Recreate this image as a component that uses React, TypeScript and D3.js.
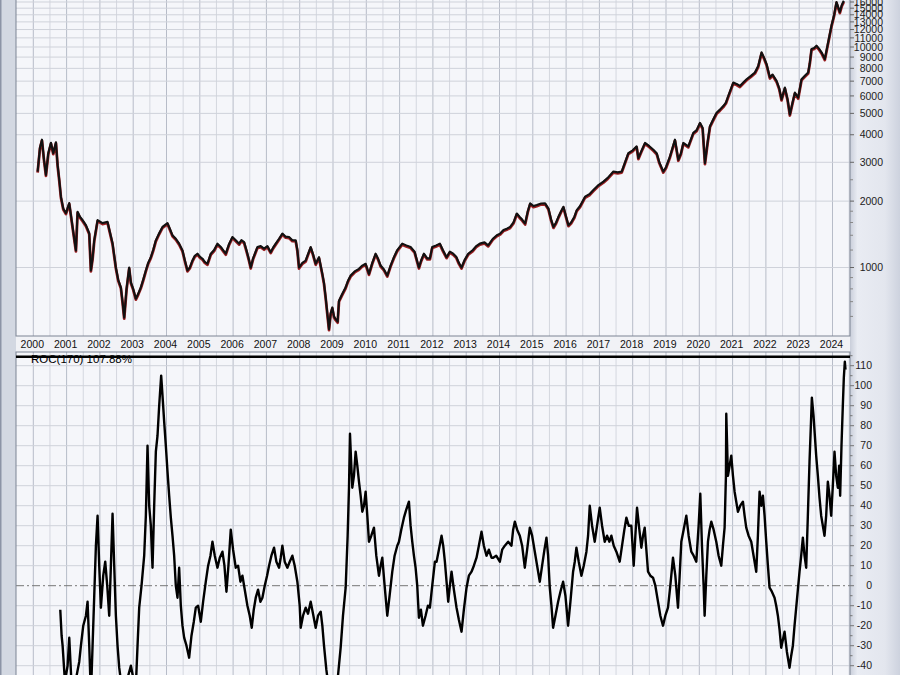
import React from "react";
import * as d3 from "d3";

// ---- Data ----
const priceDates: number[] = [
  2000.13, 2000.2, 2000.26, 2000.32, 2000.38, 2000.45, 2000.53, 2000.6, 2000.68, 2000.73, 2000.78, 2000.83, 2000.9, 2000.98,
  2001.08, 2001.18, 2001.28, 2001.33, 2001.4, 2001.48, 2001.58, 2001.68, 2001.73, 2001.78, 2001.83, 2001.93,
  2002.08, 2002.23, 2002.3, 2002.38, 2002.48, 2002.55, 2002.63, 2002.68, 2002.73, 2002.8, 2002.88, 2002.93,
  2003.0, 2003.08, 2003.15, 2003.23, 2003.3, 2003.38, 2003.45, 2003.53, 2003.6, 2003.68, 2003.78, 2003.88,
  2004.03, 2004.1, 2004.18, 2004.28, 2004.38, 2004.48, 2004.55, 2004.63, 2004.7, 2004.78, 2004.85, 2004.93,
  2005.0, 2005.08, 2005.15, 2005.23, 2005.33, 2005.43, 2005.53, 2005.63, 2005.7, 2005.78, 2005.88, 2005.98,
  2006.08, 2006.18, 2006.25, 2006.33, 2006.4, 2006.48, 2006.53, 2006.6, 2006.73, 2006.83, 2006.93,
  2007.03, 2007.13, 2007.2, 2007.28, 2007.38, 2007.48, 2007.58, 2007.68, 2007.78, 2007.88, 2007.93, 2007.98,
  2008.08, 2008.18, 2008.25, 2008.33, 2008.4, 2008.48, 2008.58, 2008.68, 2008.73, 2008.78, 2008.83, 2008.88, 2008.93, 2008.98,
  2009.03, 2009.08, 2009.14, 2009.18, 2009.28, 2009.38, 2009.45, 2009.53, 2009.65, 2009.78, 2009.88, 2009.98,
  2010.08, 2010.18, 2010.28, 2010.35, 2010.43, 2010.53, 2010.63, 2010.73, 2010.83, 2010.93,
  2011.08, 2011.2, 2011.33, 2011.45, 2011.58, 2011.65, 2011.73, 2011.83, 2011.91, 2011.98,
  2012.1, 2012.21, 2012.3, 2012.41, 2012.51, 2012.61, 2012.7, 2012.78, 2012.86, 2012.95,
  2013.06, 2013.2, 2013.3, 2013.41, 2013.55, 2013.66, 2013.8, 2013.92,
  2014.02, 2014.12, 2014.22, 2014.32, 2014.42, 2014.52, 2014.6, 2014.68, 2014.77, 2014.85, 2014.92,
  2015.02, 2015.12, 2015.25, 2015.37, 2015.47, 2015.55, 2015.62, 2015.7, 2015.77, 2015.85, 2015.92,
  2016.0, 2016.07, 2016.15, 2016.25, 2016.32, 2016.42, 2016.5, 2016.57, 2016.7, 2016.82, 2016.95,
  2017.12, 2017.25, 2017.42, 2017.55, 2017.67, 2017.77, 2017.87,
  2018.0, 2018.12, 2018.17, 2018.27, 2018.37, 2018.5, 2018.62, 2018.72, 2018.8, 2018.92,
  2019.0, 2019.12, 2019.27, 2019.37, 2019.45, 2019.52, 2019.67, 2019.82, 2019.92,
  2020.02, 2020.1, 2020.17, 2020.25, 2020.32, 2020.42, 2020.52, 2020.62, 2020.72, 2020.8, 2020.87,
  2021.02, 2021.12, 2021.22, 2021.32, 2021.42, 2021.55, 2021.67, 2021.77, 2021.87, 2021.95,
  2022.02, 2022.12, 2022.2, 2022.32, 2022.4, 2022.47, 2022.57, 2022.65, 2022.72, 2022.8, 2022.87, 2022.97,
  2023.07, 2023.17, 2023.27, 2023.32, 2023.37, 2023.45, 2023.52, 2023.6, 2023.67, 2023.77, 2023.87, 2023.97,
  2024.05, 2024.12, 2024.18, 2024.22, 2024.28, 2024.34,
];
const priceValues: number[] = [
  2720, 3500, 3800, 3100, 2630, 3300, 3680, 3300, 3700, 2920, 2500, 2095, 1850, 1765,
  1960, 1528, 1196, 1789, 1700, 1640, 1556, 1430, 970, 1100, 1328, 1640,
  1590, 1610, 1450, 1287, 1000, 880, 813, 700, 593, 800, 1000, 857,
  800, 722, 760, 813, 880, 970, 1050, 1114, 1200, 1328, 1430, 1528,
  1590, 1500, 1400, 1350, 1283, 1196, 1080, 970, 1000, 1076, 1130, 1155,
  1120, 1096, 1060, 1040, 1155, 1200, 1283, 1240, 1200, 1155, 1280, 1375,
  1330, 1283, 1330, 1305, 1200, 1080, 1000, 1100, 1238, 1250, 1217,
  1250, 1174, 1230, 1283, 1350, 1425, 1380, 1375, 1330, 1328, 1200, 1000,
  1050, 1076, 1150, 1238, 1150, 1040, 1114, 936, 850, 732, 620, 525, 620, 659,
  600, 583, 568, 707, 760, 813, 870, 919, 960, 986, 1020, 1040,
  936, 1050, 1155, 1100, 1021, 980, 919, 1020, 1114, 1200,
  1283, 1260, 1238, 1180, 1000, 1080, 1155, 1100, 1100, 1238,
  1260, 1283, 1200, 1114, 1180, 1155, 1120, 1050, 1000, 1080,
  1155, 1200, 1250, 1283, 1300, 1260, 1350, 1400,
  1425, 1480, 1500, 1528, 1600, 1758, 1700, 1650, 1583, 1800, 1954,
  1900, 1919, 1950, 1954, 1850, 1650, 1528, 1600, 1698, 1800, 1886,
  1700, 1556, 1600, 1700, 1820, 1900, 2000, 2095, 2150, 2247, 2350,
  2452, 2550, 2723, 2700, 2723, 3000, 3305,
  3400, 3543, 3135, 3400, 3672, 3550, 3422, 3300, 3000, 2723,
  2850, 3190, 3800, 3081, 3300, 3672, 3543, 4079, 4200,
  4530, 4300, 2975, 3700, 4374, 4700, 5033, 5200, 5397, 5600, 5995,
  6900, 6800, 6658, 6900, 7142, 7400, 7660, 8200, 9458, 8900,
  8363, 7273, 7500, 7020, 6500, 5788, 6546, 5800, 4943, 5600, 6210, 5892,
  7142, 7400, 7660, 8500, 9792, 9900, 10140, 9800, 9458, 8815, 10500, 12510,
  14000, 16000, 15000, 14400, 15500, 16200,
];

const rocDates: number[] = [
  2000.81, 2000.85, 2000.88, 2000.95, 2001.03, 2001.08, 2001.15, 2001.22, 2001.3, 2001.38, 2001.43, 2001.5, 2001.58, 2001.63,
  2001.68, 2001.73, 2001.78, 2001.83, 2001.88, 2001.93, 2001.98, 2002.03, 2002.1, 2002.16, 2002.22, 2002.28, 2002.33, 2002.38,
  2002.43, 2002.48, 2002.53, 2002.58, 2002.65, 2002.72, 2002.78, 2002.85, 2002.93, 2003.0, 2003.08, 2003.13, 2003.18, 2003.25,
  2003.33, 2003.38, 2003.43, 2003.48, 2003.53, 2003.58, 2003.63, 2003.68, 2003.73, 2003.78, 2003.84, 2003.88, 2003.93, 2003.98,
  2004.03, 2004.08, 2004.13, 2004.18, 2004.23, 2004.28, 2004.33, 2004.38, 2004.43, 2004.48, 2004.53, 2004.6, 2004.68, 2004.75,
  2004.82, 2004.88, 2004.95, 2005.03, 2005.1, 2005.18, 2005.25, 2005.32, 2005.38, 2005.45, 2005.53, 2005.6, 2005.68, 2005.74,
  2005.8, 2005.86, 2005.93, 2006.0, 2006.08, 2006.15, 2006.22, 2006.28, 2006.35, 2006.43, 2006.5, 2006.56, 2006.62, 2006.68,
  2006.75, 2006.82, 2006.88, 2006.95, 2007.02, 2007.08, 2007.15, 2007.23, 2007.3, 2007.38, 2007.43, 2007.48, 2007.55, 2007.63,
  2007.7, 2007.78, 2007.85, 2007.93, 2008.0, 2008.03, 2008.1, 2008.18, 2008.25, 2008.33, 2008.4, 2008.48, 2008.55, 2008.63,
  2008.68, 2008.73, 2008.8, 2008.88, 2008.95, 2009.02, 2009.08, 2009.15, 2009.23, 2009.3, 2009.38, 2009.44, 2009.48, 2009.51,
  2009.55, 2009.58, 2009.63, 2009.68, 2009.73, 2009.78, 2009.83, 2009.88, 2009.93, 2009.98, 2010.03, 2010.08, 2010.15, 2010.23,
  2010.3, 2010.38, 2010.43, 2010.48, 2010.55, 2010.63, 2010.7, 2010.78, 2010.85, 2010.93, 2010.98, 2011.05, 2011.13, 2011.2,
  2011.28, 2011.33, 2011.38, 2011.43, 2011.48, 2011.53, 2011.58, 2011.64, 2011.7, 2011.78, 2011.85, 2011.91, 2011.98, 2012.06,
  2012.11, 2012.18, 2012.26, 2012.31, 2012.36, 2012.41, 2012.46, 2012.51, 2012.56, 2012.63, 2012.71, 2012.78, 2012.86, 2012.93,
  2013.01, 2013.08, 2013.16, 2013.23, 2013.31, 2013.38, 2013.46, 2013.53, 2013.61, 2013.68, 2013.76, 2013.81, 2013.9, 2014.01,
  2014.08, 2014.16, 2014.26, 2014.36, 2014.41, 2014.46, 2014.53, 2014.61, 2014.68, 2014.76, 2014.83, 2014.91, 2014.98, 2015.06,
  2015.13, 2015.21, 2015.28, 2015.35, 2015.41, 2015.46, 2015.51, 2015.56, 2015.61, 2015.68, 2015.76, 2015.83, 2015.91, 2015.98,
  2016.06, 2016.13, 2016.21, 2016.26, 2016.31, 2016.38, 2016.46, 2016.53, 2016.61, 2016.66, 2016.71, 2016.78, 2016.86, 2016.93,
  2017.01, 2017.08, 2017.16, 2017.23, 2017.3, 2017.36, 2017.43, 2017.51, 2017.61, 2017.68, 2017.75, 2017.81, 2017.88, 2017.96,
  2018.03, 2018.08, 2018.13, 2018.2, 2018.26, 2018.31, 2018.36, 2018.41, 2018.46, 2018.53, 2018.61, 2018.68, 2018.76, 2018.83,
  2018.91, 2018.98, 2019.06, 2019.13, 2019.21, 2019.28, 2019.36, 2019.41, 2019.46, 2019.53, 2019.61, 2019.68, 2019.76, 2019.83,
  2019.91, 2019.98, 2020.03, 2020.08, 2020.13, 2020.16, 2020.21, 2020.26, 2020.31, 2020.36, 2020.43, 2020.51, 2020.58, 2020.66,
  2020.71, 2020.76, 2020.8, 2020.81, 2020.86, 2020.91, 2020.96, 2021.01, 2021.06, 2021.11, 2021.16, 2021.23, 2021.31, 2021.36,
  2021.41, 2021.48, 2021.56, 2021.63, 2021.71, 2021.76, 2021.81, 2021.86, 2021.91, 2021.96, 2022.01, 2022.06, 2022.11, 2022.18,
  2022.26, 2022.31, 2022.36, 2022.41, 2022.46, 2022.51, 2022.56, 2022.63, 2022.71, 2022.76, 2022.81, 2022.86, 2022.91, 2022.96,
  2023.01, 2023.06, 2023.11, 2023.16, 2023.21, 2023.26, 2023.31, 2023.35, 2023.38, 2023.43, 2023.47, 2023.51, 2023.56, 2023.61,
  2023.66, 2023.71, 2023.76, 2023.81, 2023.86, 2023.91, 2023.96, 2024.01, 2024.06, 2024.11, 2024.16, 2024.2, 2024.23, 2024.27,
  2024.31, 2024.34, 2024.37, 2024.39,
];
const rocValues: number[] = [
  -12, -25, -30, -48, -40, -26, -50, -60, -45, -38, -30, -20, -15, -8,
  -30, -55, -30, -5, 20, 35, 10, -11, 5, 12, 0, -15, 10, 36,
  10, -15, -30, -41, -50, -60, -52, -45, -40, -46, -50, -30, -11, 0,
  15, 35, 70, 40, 30, 9, 40, 67, 75, 90, 105, 95, 82, 70,
  57, 45, 34, 25, 15, 0, -6, 9, -10, -20, -26, -30, -36, -25,
  -18, -11, -10, -18, -8, 2, 10, 15, 22, 15, 9, 14, 17, 10,
  -3, 10, 28, 18, 9, 10, 2, 5, -2, -10, -15, -21, -12, -6,
  -2, -8, -6, 0, 5, 10, 15, 19, 12, 9, 14, 20, 12, 9,
  12, 15, 10, 2, -10, -21, -15, -11, -14, -8, -14, -21, -15, -13,
  -20, -30, -42, -52, -50, -55, -53, -45, -31, -15, -1, 25, 49, 76,
  60, 49, 55, 67, 60, 52, 45, 37, 40, 47, 35, 22, 25, 29,
  15, 5, 10, 14, 0, -15, -5, 7, 15, 20, 22, 28, 34, 38,
  42, 30, 22, 15, 9, 0, -16, -12, -20, -15, -10, -11, 0, 12,
  12, 18, 25, 20, 12, 2, -8, 0, 7, -2, -11, -17, -23, -12,
  -1, 5, 7, 10, 14, 20, 27, 20, 15, 18, 14, 14, 15, 12,
  18, 20, 22, 20, 28, 32, 28, 25, 20, 9, 18, 29, 25, 17,
  10, 2, 10, 18, 24, 15, -1, -10, -21, -15, -8, -3, 2, -5,
  -20, -8, 7, 12, 19, 12, 5, 10, 17, 25, 40, 30, 22, 30,
  39, 30, 22, 25, 22, 25, 20, 17, 12, 20, 28, 34, 30, 30,
  10, 25, 39, 28, 19, 25, 29, 18, 7, 5, 4, 0, -8, -15,
  -20, -15, -11, 0, 14, 5, -11, 5, 22, 28, 35, 25, 17, 15,
  12, 30, 46, 20, 0, -15, 5, 22, 28, 32, 28, 22, 15, 10,
  20, 29, 55, 86, 55, 60, 65, 55, 47, 42, 37, 40, 42, 35,
  29, 25, 22, 15, 7, 25, 47, 40, 45, 35, 22, 10, -1, -3,
  -6, -10, -15, -22, -31, -27, -23, -33, -41, -35, -30, -20, -11, -2,
  7, 15, 24, 15, 9, 35, 62, 80, 94, 85, 75, 65, 55, 44,
  35, 30, 25, 35, 52, 45, 35, 50, 67, 55, 49, 60, 45, 70,
  90, 104, 112, 108,
];

const yearLabels: number[] = d3.range(2000, 2025);
const priceTicks: number[] = [1000, 2000, 3000, 4000, 5000, 6000, 7000, 8000, 9000, 10000, 11000, 12000, 13000, 14000, 15000, 16000];
const priceMinorTicks: number[] = [600, 700, 800, 900, 1200, 1400, 1600, 1800, 2500];
const rocTicks: number[] = d3.range(-40, 111, 10);
const rocLegend = "ROC(170) 107.88%";

// ---- Layout ----
const W = 900, H = 675;
const PL = 16, PR = 850;
const TOP_T = 0, TOP_B = 336;
const BOT_T = 352, BOT_B = 675;

export default function App() {
  const x = d3.scaleLinear().domain([2000, 2024]).range([33.3, 832.5]);
  const yP = d3.scaleLog().domain([1000, 10000]).range([267.5, 47]);
  const yR = d3.scaleLinear().domain([0, 110]).range([585.7, 365.7]);

  const priceData = priceDates.map((d, i) => [d, priceValues[i]] as [number, number]);
  const rocData = rocDates.map((d, i) => [d, rocValues[i]] as [number, number]);

  const priceLine = d3.line<[number, number]>().x(d => x(d[0])).y(d => yP(d[1]));
  const rocLine = d3.line<[number, number]>().x(d => x(d[0])).y(d => yR(d[1]));

  const halfYears = d3.range(1999.5, 2024.6, 0.5).filter(t => x(t) > PL + 1 && x(t) < PR - 0.5);
  const font = "'Liberation Sans', Arial, sans-serif";

  return (
    <svg width={W} height={H} style={{ position: "absolute", left: 0, top: 0 }} xmlns="http://www.w3.org/2000/svg">
      <defs>
        <linearGradient id="rightBg" x1="0" x2="1" y1="0" y2="0">
          <stop offset="0" stopColor="#c9ceda" />
          <stop offset="0.15" stopColor="#e9ecf3" />
          <stop offset="0.7" stopColor="#e3e6ee" />
          <stop offset="1" stopColor="#cdd2de" />
        </linearGradient>
        <clipPath id="clipTop"><rect x={PL} y={TOP_T} width={PR - PL} height={TOP_B - TOP_T} /></clipPath>
        <clipPath id="clipBot"><rect x={PL} y={BOT_T + 5} width={PR - PL} height={BOT_B - BOT_T - 5} /></clipPath>
      </defs>
      {/* page background */}
      <rect x={0} y={0} width={W} height={H} fill="#eceef4" />
      <rect x={0} y={0} width={PL} height={H} fill="#d3d8e2" />
      <rect x={0} y={0} width={1.5} height={H} fill="#8c94a6" />
      <rect x={PR} y={0} width={W - PR} height={H} fill="url(#rightBg)" />
      <rect x={PL} y={TOP_B} width={PR - PL} height={BOT_T - TOP_B} fill="#f1f2f6" />

      {/* panel backgrounds */}
      <rect x={PL} y={TOP_T} width={PR - PL} height={TOP_B - TOP_T} fill="#f5f6fa" />
      <rect x={PL} y={BOT_T} width={PR - PL} height={BOT_B - BOT_T} fill="#f5f6fa" />

      {/* vertical grid */}
      {halfYears.map(t => {
        const major = Math.abs(t - Math.round(t)) < 0.01;
        return (
          <g key={"v" + t}>
            <line x1={x(t)} x2={x(t)} y1={TOP_T} y2={TOP_B} stroke={major ? "#b7bcc8" : "#d4d7df"} strokeWidth={1} />
            <line x1={x(t)} x2={x(t)} y1={BOT_T} y2={BOT_B} stroke={major ? "#b7bcc8" : "#d4d7df"} strokeWidth={1} />
          </g>
        );
      })}
      {/* horizontal grid top */}
      {priceTicks.map(v => (
        <line key={"hp" + v} x1={PL} x2={PR} y1={yP(v)} y2={yP(v)} stroke="#cfd2da" strokeWidth={1} />
      ))}
      {/* horizontal grid bottom */}
      {rocTicks.map(v => (
        v === 0 ? null :
        <line key={"hr" + v} x1={PL} x2={PR} y1={yR(v)} y2={yR(v)} stroke="#cfd2da" strokeWidth={1} />
      ))}
      <line x1={PL} x2={PR} y1={yR(0)} y2={yR(0)} stroke="#777" strokeWidth={1} strokeDasharray="8,3,2,3" />

      {/* price series */}
      <g clipPath="url(#clipTop)">
        <path d={priceLine(priceData) || ""} fill="none" stroke="#9c1f22" strokeWidth={2.8} transform="translate(0,1)" strokeLinejoin="round" />
        <path d={priceLine(priceData) || ""} fill="none" stroke="#111" strokeWidth={2.1} strokeLinejoin="round" />
      </g>

      {/* ROC series */}
      <g clipPath="url(#clipBot)">
        <path d={rocLine(rocData) || ""} fill="none" stroke="#000" strokeWidth={2.4} strokeLinejoin="round" />
      </g>

      {/* panel borders */}
      <rect x={PL} y={TOP_T - 1} width={PR - PL} height={TOP_B - TOP_T + 1} fill="none" stroke="#7d8494" strokeWidth={1} />
      <rect x={PL} y={BOT_T} width={PR - PL} height={BOT_B - BOT_T + 2} fill="none" stroke="#7d8494" strokeWidth={1} />
      <line x1={PL} x2={PR} y1={356.8} y2={356.8} stroke="#000" strokeWidth={2.4} />

      {/* legend */}
      <text x={31} y={363} fontFamily={font} fontSize={11.5} fill="#000">{rocLegend}</text>

      {/* right axis: price */}
      {priceTicks.map(v => (
        <g key={"pt" + v}>
          <line x1={PR} x2={PR + 4} y1={yP(v)} y2={yP(v)} stroke="#666" />
          <text x={883} y={yP(v)} dy="0.35em" textAnchor="end" fontFamily={font} fontSize={10.5} fill="#222">{v}</text>
        </g>
      ))}
      {priceMinorTicks.map(v => (
        <line key={"pm" + v} x1={PR} x2={PR + 3} y1={yP(v)} y2={yP(v)} stroke="#888" />
      ))}

      {/* right axis: ROC */}
      {d3.range(-45, 116, 5).map(v => (
        <line key={"rm" + v} x1={PR} x2={PR + (v % 10 === 0 ? 4 : 2.5)} y1={yR(v)} y2={yR(v)} stroke="#777" />
      ))}
      {rocTicks.map(v => (
        <text key={"rt" + v} x={872} y={yR(v)} dy="0.35em" textAnchor="end" fontFamily={font} fontSize={10.5} fill="#222">{v}</text>
      ))}

      {/* x axis labels */}
      {yearLabels.map(yr => (
        <text key={"yl" + yr} x={x(yr) - 1} y={348} textAnchor="middle" fontFamily={font} fontSize={10.5} fill="#111">{yr}</text>
      ))}
    </svg>
  );
}
